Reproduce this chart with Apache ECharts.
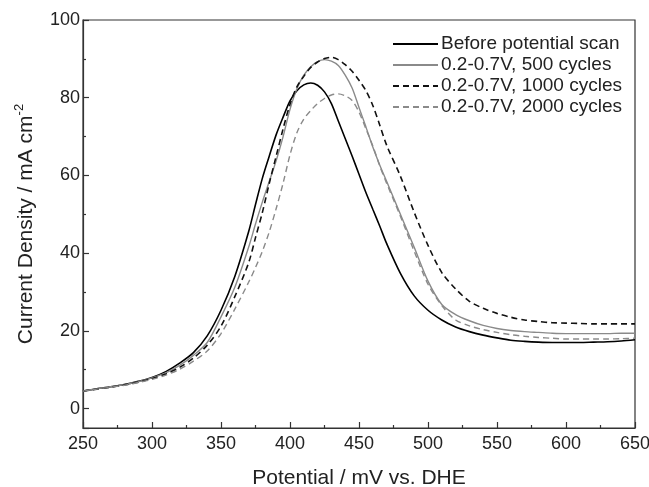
<!DOCTYPE html>
<html>
<head>
<meta charset="utf-8">
<script src="https://cdn.jsdelivr.net/npm/echarts@6/dist/echarts.min.js"></script>
<style>
html,body{margin:0;padding:0;background:#fff;}
#chart{width:649px;height:487px;}
</style>
</head>
<body>
<div id="chart"></div>
<script>
// Potential (mV vs. DHE)
var potentials = [250,260,270,280,290,300,310,320,330,340,350,360,370,
  375,380,385,390,395,400,405,410,415,420,425,430,435,440,445,450,455,460,465,470,
  480,490,500,510,520,530,540,550,560,570,580,590,600,610,620,630,640,650];

var seriesNames = ['Before potential scan','0.2-0.7V, 500 cycles','0.2-0.7V, 1000 cycles','0.2-0.7V, 2000 cycles'];

// Current density (mA cm^-2)
var beforeScan = [4.5,5.1,5.6,6.2,7.0,8.0,9.5,11.7,14.4,18.7,25.3,34.0,45.5,
  52.5,59.3,65.0,70.5,75.0,79.2,81.8,83.3,83.8,83.2,81.5,78.5,74.0,69.5,65.0,60.3,55.6,51.3,47.0,42.5,
  34.8,29.0,25.3,22.8,21.0,19.8,18.9,18.2,17.6,17.3,17.1,17.0,17.0,17.0,17.1,17.2,17.4,17.7];

var cycles500 = [4.5,5.1,5.6,6.2,6.9,7.9,9.2,11.1,13.7,17.0,23.6,31.2,41.5,
  47.5,53.2,58.5,63.8,70.0,77.0,82.3,85.8,88.0,89.3,89.8,89.4,88.3,85.8,82.5,77.5,72.5,67.3,62.7,58.5,
  50.0,41.5,32.8,26.8,24.2,22.6,21.4,20.6,20.1,19.8,19.6,19.4,19.3,19.3,19.3,19.3,19.4,19.4];

var cycles1000 = [4.5,5.0,5.5,6.1,6.8,7.7,8.9,10.6,13.0,16.3,21.2,28.8,37.5,
  44.0,50.5,58.0,65.0,72.0,78.3,82.8,85.5,87.8,89.2,90.1,90.4,89.8,88.5,86.8,84.5,81.8,78.0,73.0,67.8,
  59.8,50.5,42.0,35.0,30.8,27.6,25.8,24.5,23.5,22.8,22.4,22.1,22.0,21.9,21.8,21.8,21.8,21.8];

var cycles2000 = [4.5,5.0,5.5,6.0,6.7,7.5,8.6,10.1,12.2,14.8,19.3,25.6,32.5,
  36.3,40.5,45.5,51.5,58.0,65.3,71.0,74.5,76.7,78.5,79.8,80.7,81.0,80.5,79.3,76.3,72.0,67.6,62.5,58.0,
  49.5,40.5,32.0,26.5,22.8,21.3,20.3,19.6,19.0,18.6,18.3,18.1,17.9,17.9,17.9,17.9,18.0,18.1];

var xTitle = 'Potential / mV vs. DHE';

function pairs(vals){ return potentials.map(function(x,i){ return [x, vals[i]]; }); }

var FONT = '"Liberation Sans", Arial, sans-serif';
var chart = echarts.init(document.getElementById('chart'), null, {renderer:'canvas'});

var series = [
  {name: seriesNames[0], data: pairs(beforeScan), color:'#000000', lineStyle:{color:'#000000', width:1.6, type:'solid'}},
  {name: seriesNames[1], data: pairs(cycles500), color:'#8a8a8a', lineStyle:{color:'#8a8a8a', width:1.4, type:'solid'}},
  {name: seriesNames[2], data: pairs(cycles1000), color:'#111111', lineStyle:{color:'#111111', width:1.6, type:[6,4]}},
  {name: seriesNames[3], data: pairs(cycles2000), color:'#8a8a8a', lineStyle:{color:'#8a8a8a', width:1.4, type:[6,4]}}
].map(function(s){
  return Object.assign({type:'line', smooth:0.3, symbol:'none', showSymbol:false, animation:false}, s);
});

chart.setOption({
  backgroundColor:'#ffffff',
  animation:false,
  textStyle:{fontFamily:FONT},
  grid:{left:83, right:14, top:20, bottom:59, containLabel:false, outerBoundsMode:'none',
        show:true, borderColor:'#333333', borderWidth:1.2, backgroundColor:'transparent'},
  legend:{
    orient:'vertical', left:387, top:29,
    itemWidth:45, itemHeight:14, itemGap:1,
    itemStyle:{opacity:0},
    textStyle:{fontFamily:FONT, fontSize:19, color:'#222', lineHeight:20, padding:[0,0,0,-2]},
    data: seriesNames
  },
  xAxis:{
    type:'value', min:250, max:650, interval:50,
    name:xTitle, nameLocation:'middle', nameGap:40,
    nameTextStyle:{fontFamily:FONT, fontSize:21, color:'#222'},
    axisLine:{show:true, onZero:false, lineStyle:{color:'#333', width:1.2}},
    axisTick:{show:true, inside:true, length:6, lineStyle:{color:'#333', width:1.2}},
    minorTick:{show:true, splitNumber:2, length:3, lineStyle:{color:'#333', width:1.2}},
    axisLabel:{fontFamily:FONT, fontSize:18, color:'#222', margin:7},
    splitLine:{show:false}
  },
  yAxis:{
    type:'value', min:-5, max:100, splitNumber:5,
    name:'{a|Current Density / mA cm}{s|-2}', nameLocation:'middle', nameGap:29, nameRotate:90,
    nameTextStyle:{fontFamily:FONT, fontSize:21, color:'#222',
      rich:{a:{fontFamily:FONT, fontSize:21, color:'#222', lineHeight:26},
            s:{fontFamily:FONT, fontSize:13, color:'#222', lineHeight:26, padding:[0,0,13,0]}}},
    axisLine:{show:true, onZero:false, lineStyle:{color:'#333', width:1.2}},
    axisTick:{show:true, inside:true, length:6, lineStyle:{color:'#333', width:1.2}},
    minorTick:{show:true, splitNumber:2, length:3, lineStyle:{color:'#333', width:1.2}},
    axisLabel:{fontFamily:FONT, fontSize:18, color:'#222', margin:3, showMinLabel:false,
      formatter:function(v){ return v < 0 ? '' : String(v); }},
    splitLine:{show:false}
  },
  series: series
});
</script>
</body>
</html>
